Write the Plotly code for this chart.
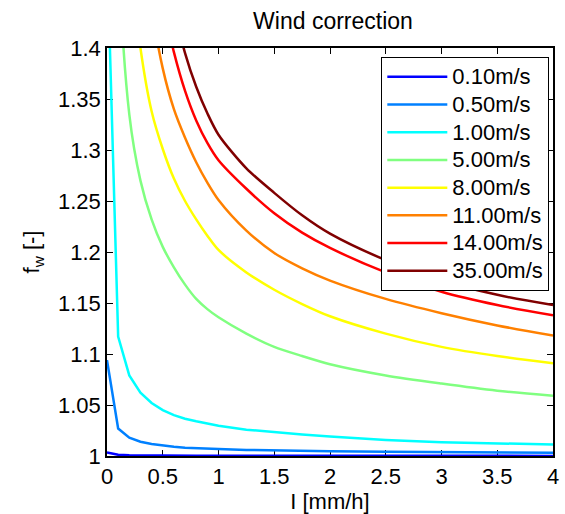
import plotly.graph_objects as go

# Rain intensity samples (mm/h)
intensity = [0, 0.1, 0.2, 0.3, 0.4, 0.5, 0.6, 0.7, 0.8, 0.9, 1.0, 1.25, 1.5, 1.75,
             2.0, 2.5, 3.0, 3.5, 4.0]

# Wind speed labels for each curve
wind_labels = ["0.10m/s", "0.50m/s", "1.00m/s", "5.00m/s", "8.00m/s", "11.00m/s", "14.00m/s", "35.00m/s"]

# Wind correction factor f_w for each wind speed
fw_010 = [1.0035, 1.0012, 1.0008, 1.0006, 1.0005, 1.0004, 1.0004, 1.0003, 1.0003, 1.0003,
          1.0003, 1.0002, 1.0002, 1.0002, 1.0002, 1.0001, 1.0001, 1.0001, 1.0001]
fw_050 = [1.094, 1.027, 1.018, 1.014, 1.0118, 1.0102, 1.0091, 1.0082, 1.0076, 1.0072,
          1.0068, 1.006, 1.0054, 1.005, 1.0047, 1.0042, 1.0038, 1.0035, 1.0033]
fw_100 = [1.50, 1.117, 1.079, 1.062, 1.052, 1.045, 1.040, 1.0365, 1.034, 1.0317,
          1.0296, 1.0258, 1.0232, 1.021, 1.0192, 1.0158, 1.0136, 1.0122, 1.0112]
fw_500 = [2.2, 1.50, 1.335, 1.27, 1.232, 1.205, 1.185, 1.168, 1.154, 1.144,
          1.136, 1.12, 1.107, 1.098, 1.09, 1.079, 1.071, 1.064, 1.059]
fw_800 = [2.8, 1.74, 1.50, 1.40, 1.338, 1.301, 1.272, 1.25, 1.232, 1.216,
          1.202, 1.18, 1.163, 1.149, 1.137, 1.12, 1.107, 1.098, 1.091]
fw_1100 = [3.3, 2.0, 1.68, 1.53, 1.44, 1.38, 1.34, 1.312, 1.288, 1.268,
           1.251, 1.221, 1.199, 1.184, 1.172, 1.154, 1.14, 1.128, 1.118]
fw_1400 = [3.6, 2.2, 1.8, 1.62, 1.52, 1.445, 1.396, 1.358, 1.329, 1.307,
           1.29, 1.262, 1.238, 1.219, 1.204, 1.18, 1.161, 1.148, 1.138]
fw_3500 = [4.0, 2.4, 1.9, 1.7, 1.58, 1.5, 1.44, 1.395, 1.362, 1.336,
           1.315, 1.282, 1.258, 1.236, 1.218, 1.192, 1.172, 1.158, 1.148]

series = [fw_010, fw_050, fw_100, fw_500, fw_800, fw_1100, fw_1400, fw_3500]

# jet(8) colour map
colors = ["#0000FF", "#0080FF", "#00FFFF", "#80FF80", "#FFFF00", "#FF8000", "#FF0000", "#800000"]

# the three low-wind curves keep straight segments, the others are smoothed
shapes = ["linear", "linear", "linear", "spline", "spline", "spline", "spline", "spline"]

x_ticks = [0, 0.5, 1, 1.5, 2, 2.5, 3, 3.5, 4]
x_ticktext = ["0", "0.5", "1", "1.5", "2", "2.5", "3", "3.5", "4"]
y_ticks = [1, 1.05, 1.1, 1.15, 1.2, 1.25, 1.3, 1.35, 1.4]
y_ticktext = ["1", "1.05", "1.1", "1.15", "1.2", "1.25", "1.3", "1.35", "1.4"]

FONT = "Liberation Sans, Arial, Helvetica, sans-serif"

fig = go.Figure()
for label, vals, col, shp in zip(wind_labels, series, colors, shapes):
    fig.add_trace(go.Scatter(
        x=intensity, y=vals, mode="lines",
        name='<span style="font-size:22px">' + label + "</span>",
        line=dict(color=col, width=2.5, shape=shp, smoothing=0.8),
    ))

axis_common = dict(
    showgrid=False, zeroline=False,
    showline=True, linecolor="black", linewidth=1.5,
    mirror="ticks", ticks="inside", ticklen=6, tickwidth=1, tickcolor="black",
    tickfont=dict(family=FONT, size=22, color="black"),
    layer="below traces",
)

fig.update_layout(
    width=565, height=514,
    margin=dict(l=107, r=6, t=48, b=57),
    paper_bgcolor="white", plot_bgcolor="white",
    font=dict(family=FONT, size=22, color="black"),
    title=dict(text="Wind correction", x=(107 + 559) / 2 / 565, xanchor="center",
               y=1 - 21 / 514, yanchor="middle",
               font=dict(family=FONT, size=23, color="black")),
    xaxis=dict(range=[0, 4], tickvals=x_ticks, ticktext=x_ticktext,
               title=dict(text="I [mm/h]", standoff=3,
                          font=dict(family=FONT, size=22, color="black")),
               **axis_common),
    yaxis=dict(range=[1, 1.4], tickvals=y_ticks, ticktext=y_ticktext,
               title=dict(text="f<sub>w</sub> [-]", standoff=12,
                          font=dict(family=FONT, size=22, color="black")),
               **axis_common),
    legend=dict(
        x=(385 - 107) / 452, y=(457 - 57) / 409, xanchor="left", yanchor="top",
        bgcolor="white", bordercolor="black", borderwidth=1,
        font=dict(family=FONT, size=19, color="black"),
        itemwidth=60, tracegroupgap=0,
    ),
    showlegend=True,
)

fig.write_html("out.html")
